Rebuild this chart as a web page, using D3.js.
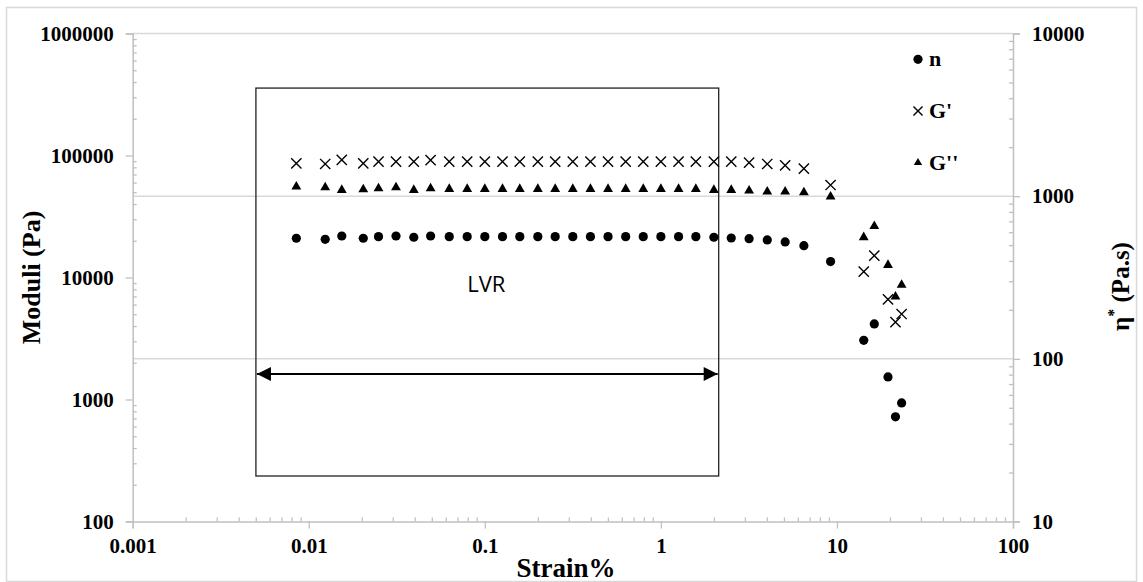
<!DOCTYPE html>
<html><head><meta charset="utf-8">
<script src="https://cdn.jsdelivr.net/npm/d3@7"></script>
<style>body{margin:0;background:#fff} svg{display:block}</style>
</head><body><svg id="chart" width="1143" height="582"></svg>
<script>
// ---- data ----
const strain = [0.0085, 0.0124, 0.0154, 0.0204, 0.0249, 0.0313, 0.0395, 0.0492, 0.0628, 0.0794,
  0.1, 0.126, 0.158, 0.2, 0.251, 0.316, 0.398, 0.501, 0.631, 0.794,
  1.0, 1.26, 1.58, 2.0, 2.51, 3.17, 4.02, 5.08, 6.49, 9.2,
  14.2, 16.3, 19.5, 21.5, 23.3];
const gPrime = [86300, 85200, 91900, 86300, 88900, 89200, 88900, 91500, 88900, 89000,
  88900, 89000, 88900, 88900, 89000, 88900, 88900, 89000, 88900, 88900,
  88900, 88900, 88900, 88900, 88900, 87300, 85200, 83100, 77900, 57300,
  11160, 15100, 6630, 4300, 5020];
const gDoublePrime = [55500, 54800, 52100, 52800, 53800, 54800, 52100, 53800, 53100, 53100,
  53100, 53100, 53100, 53100, 53100, 53100, 53100, 53100, 53100, 53100,
  53100, 53100, 53100, 52100, 52100, 51400, 50500, 50500, 49900, 45900,
  21360, 26400, 12650, 6960, 8690];
const etaStar = [551, 543, 569, 551, 564, 569, 559, 569, 564, 564,
  564, 564, 564, 564, 564, 564, 564, 564, 564, 564,
  564, 564, 564, 559, 553, 548, 538, 523, 496, 396,
  130, 164, 77.4, 44.0, 53.6];
const xTicks = [0.001, 0.01, 0.1, 1, 10, 100];
const yLeftTicks = [100, 1000, 10000, 100000, 1000000];
const yRightTicks = [10, 100, 1000, 10000];
const legendLabels = ["n", "G'", "G''"];
const lvrStrain = [0.00501, 2.13];
const lvrModuli = [236, 357000];
const lvrArrowModuli = 1618;
const lvrLabel = "LVR";
const lvrLabelPos = [0.102, 8850];

// ---- layout ----
const svg = d3.select("#chart");
const L = 132.7, R = 1013, T = 33.5, B = 521.5;
const x = d3.scaleLog().domain([0.001, 100]).range([L, R]);
const yL = d3.scaleLog().domain([100, 1e6]).range([B, T]);
const yR = d3.scaleLog().domain([10, 1e4]).range([B, T]);
const axisCol = "#c0c0c0", gridCol = "#d9d9d9";
const serif = "'Liberation Serif','Times New Roman',serif";

// chart border
svg.append("rect").attr("x", 6.5).attr("y", 7.5).attr("width", 1130).attr("height", 574)
  .attr("fill", "none").attr("stroke", gridCol).attr("stroke-width", 1.5);

// gridlines (secondary axis majors)
svg.append("g").selectAll("line").data(yRightTicks.filter(d => d > 10)).join("line")
  .attr("x1", L).attr("x2", R).attr("y1", d => yR(d)).attr("y2", d => yR(d))
  .attr("stroke", gridCol).attr("stroke-width", 1.5);

function minors(lo, hi) {
  const out = [];
  for (let e = Math.log10(lo); e < Math.log10(hi); e++)
    for (let k = 2; k <= 9; k++) out.push(k * Math.pow(10, e));
  return out;
}
const fmt = d => String(d);

function styleAxis(g) {
  g.select(".domain").attr("stroke", axisCol).attr("stroke-width", 1.5);
  g.selectAll(".tick line").attr("stroke", axisCol).attr("stroke-width", 1.3);
  g.selectAll("text").attr("fill", "#000").attr("font-family", serif)
    .attr("font-weight", "bold").attr("font-size", 21);
}

// x axis
const gx = svg.append("g").attr("transform", `translate(0,${B})`)
  .call(d3.axisBottom(x).tickValues(xTicks).tickFormat(fmt).tickSize(7).tickPadding(10));
styleAxis(gx);
const gxm = svg.append("g").attr("transform", `translate(0,${B})`)
  .call(d3.axisBottom(x).tickValues(minors(0.001, 100)).tickFormat("").tickSize(-4));
styleAxis(gxm); gxm.select(".domain").remove();

// left axis
const gyl = svg.append("g").attr("transform", `translate(${L},0)`)
  .call(d3.axisLeft(yL).tickValues(yLeftTicks).tickFormat(fmt).tickSize(7).tickPadding(12));
styleAxis(gyl);
const gylm = svg.append("g").attr("transform", `translate(${L},0)`)
  .call(d3.axisLeft(yL).tickValues(minors(100, 1e6)).tickFormat("").tickSize(-4));
styleAxis(gylm); gylm.select(".domain").remove();

// right axis
const gyr = svg.append("g").attr("transform", `translate(${R},0)`)
  .call(d3.axisRight(yR).tickValues(yRightTicks).tickFormat(fmt).tickSize(7).tickPadding(12));
styleAxis(gyr);
const gyrm = svg.append("g").attr("transform", `translate(${R},0)`)
  .call(d3.axisRight(yR).tickValues(minors(10, 1e4)).tickFormat("").tickSize(-4));
styleAxis(gyrm); gyrm.select(".domain").remove();

// axis titles
svg.append("text").attr("transform", `translate(40,${(T + B) / 2}) rotate(-90)`)
  .attr("text-anchor", "middle").attr("font-family", serif).attr("font-weight", "bold")
  .attr("font-size", 26).text("Moduli (Pa)");
svg.append("text").attr("x", 566).attr("y", 577)
  .attr("text-anchor", "middle").attr("font-family", serif).attr("font-weight", "bold")
  .attr("font-size", 27).text("Strain%");
const rt = svg.append("text").attr("transform", `translate(1129,${(T + B) / 2 + 9}) rotate(-90)`)
  .attr("text-anchor", "middle").attr("font-family", serif).attr("font-weight", "bold")
  .attr("font-size", 25);
rt.append("tspan").text("η");
rt.append("tspan").attr("dy", -10).attr("font-size", 16).text("*");
rt.append("tspan").attr("dy", 10).text(" (Pa.s)");

// LVR box and arrow
svg.append("rect").attr("x", x(lvrStrain[0])).attr("y", yL(lvrModuli[1]))
  .attr("width", x(lvrStrain[1]) - x(lvrStrain[0])).attr("height", yL(lvrModuli[0]) - yL(lvrModuli[1]))
  .attr("fill", "none").attr("stroke", "#222").attr("stroke-width", 1.3);
const defs = svg.append("defs");
defs.append("marker").attr("id", "ah").attr("viewBox", "0 0 10 10").attr("refX", 10).attr("refY", 5)
  .attr("markerWidth", 15).attr("markerHeight", 14).attr("markerUnits", "userSpaceOnUse")
  .attr("orient", "auto-start-reverse")
  .append("path").attr("d", "M0,0 L10,5 L0,10 Z").attr("fill", "#000");
svg.append("line").attr("x1", x(lvrStrain[0]) + 1).attr("x2", x(lvrStrain[1]) - 1)
  .attr("y1", yL(lvrArrowModuli)).attr("y2", yL(lvrArrowModuli))
  .attr("stroke", "#000").attr("stroke-width", 2)
  .attr("marker-start", "url(#ah)").attr("marker-end", "url(#ah)");
svg.append("text").attr("x", x(lvrLabelPos[0])).attr("y", yL(lvrLabelPos[1]) + 8)
  .attr("text-anchor", "middle").attr("font-family", "'Open Sans',Carlito,sans-serif")
  .attr("font-size", 22).text(lvrLabel);

// data series
const idx = d3.range(strain.length);
svg.append("g").selectAll("circle").data(idx).join("circle")
  .attr("cx", i => x(strain[i])).attr("cy", i => yR(etaStar[i])).attr("r", 4.6).attr("fill", "#000");
svg.append("g").selectAll("path").data(idx).join("path")
  .attr("d", d3.symbol(d3.symbolTriangle, 42))
  .attr("transform", i => `translate(${x(strain[i])},${yL(gDoublePrime[i])})`).attr("fill", "#000");
svg.append("g").selectAll("path").data(idx).join("path")
  .attr("d", d3.symbol(d3.symbolX, 70))
  .attr("transform", i => `translate(${x(strain[i])},${yL(gPrime[i])})`)
  .attr("fill", "none").attr("stroke", "#000").attr("stroke-width", 1.4);

// legend
const lg = svg.append("g").attr("transform", "translate(918,0)");
const rows = [59.3, 111, 162.7];
lg.append("circle").attr("cx", 0).attr("cy", rows[0]).attr("r", 4.6).attr("fill", "#000");
lg.append("path").attr("d", d3.symbol(d3.symbolX, 55)).attr("transform", `translate(0,${rows[1]})`)
  .attr("fill", "none").attr("stroke", "#000").attr("stroke-width", 1.4);
lg.append("path").attr("d", d3.symbol(d3.symbolTriangle, 30)).attr("transform", `translate(0,${rows[2]})`)
  .attr("fill", "#000");
lg.selectAll("text").data(legendLabels).join("text")
  .attr("x", 11).attr("y", (d, i) => rows[i] + 7)
  .attr("font-family", serif).attr("font-weight", "bold").attr("font-size", 22).text(d => d);
</script></body></html>
